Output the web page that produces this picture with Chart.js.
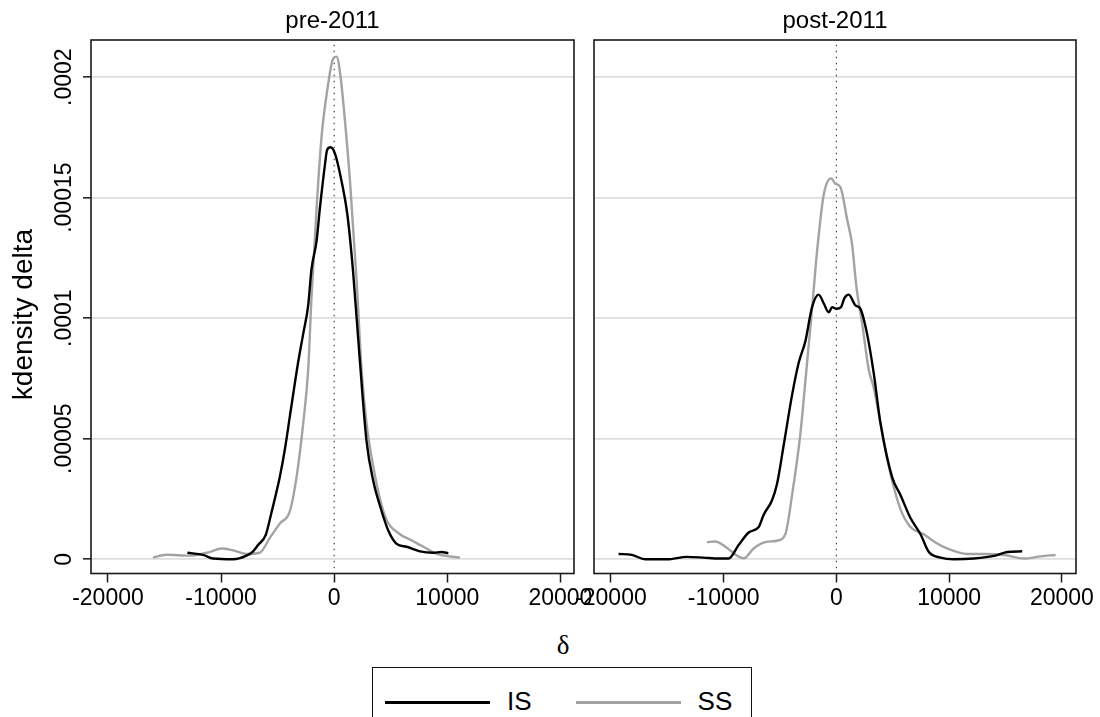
<!DOCTYPE html>
<html>
<head>
<meta charset="utf-8">
<script src="https://cdn.jsdelivr.net/npm/chart.js@4.4.1/dist/chart.umd.min.js"></script>
<style>
  body { margin: 0; width: 1100px; height: 717px; overflow: hidden; background: #fff; font-family: "Liberation Sans", Arial, sans-serif; position: relative; }
  canvas { position: absolute; top: 0; }
  #delta { position: absolute; left: 513px; width: 100px; top: 630px; text-align: center; font-family: "Liberation Serif", serif; font-size: 27px; line-height: 30px; }
  #legend { position: absolute; left: 372px; top: 667px; width: 380px; height: 70px; border: 1.5px solid #111; box-sizing: border-box; display: flex; align-items: flex-start; padding: 0 0 0 12px; }
  .item { display: flex; align-items: center; height: 70px; margin-top: -1px; }
  .swatch { width: 105px; height: 3px; margin-right: 17px; }
  .lbl { font-size: 26px; margin-right: 44px; position: relative; top: -1px; }
</style>
</head>
<body>
<canvas id="pre" width="665" height="620" style="left:0"></canvas>
<canvas id="post" width="530" height="620" style="left:570px"></canvas>
<div id="delta">δ</div>
<div id="legend"></div>
<script>
// kernel density estimates (x = delta, y in units of 1e-5)
const yUnit = 1e-5;

const preIsX = [-12980, -11590, -10710, -8940, -7760, -7170, -6730, -6050, -5550, -4810, -4370, -3920, -3190, -2740, -2300, -2010, -1560, -1270, -830, -620, -320, 60, 500, 1180, 1680, 2210, 2860, 3450, 4040, 4780, 5520, 6400, 7580, 8760, 9500, 10090];
const preIsY = [0.27, 0.18, 0.03, 0, 0.15, 0.33, 0.59, 1.01, 1.93, 3.41, 4.53, 5.93, 8.16, 9.35, 10.53, 12.02, 13.2, 14.54, 16.32, 16.99, 17.09, 16.84, 16.02, 14.24, 11.87, 8.6, 4.9, 3.26, 2.23, 1.19, 0.64, 0.52, 0.33, 0.27, 0.3, 0.25];

const preSsX = [-16020, -14840, -12770, -11000, -9970, -8940, -7760, -6580, -5690, -4810, -3920, -3330, -2740, -2300, -2010, -1560, -1120, -620, -90, 210, 560, 940, 1390, 1980, 2420, 2860, 3450, 4040, 4630, 5810, 6700, 7880, 9060, 11120];
const preSsY = [0.07, 0.19, 0.15, 0.3, 0.45, 0.37, 0.22, 0.27, 0.89, 1.48, 2.0, 3.41, 5.64, 7.86, 10.83, 14.54, 17.51, 19.44, 20.77, 20.85, 20.03, 18.25, 15.73, 11.57, 7.86, 5.64, 3.86, 2.52, 1.63, 1.04, 0.82, 0.52, 0.22, 0.07];

const postIsX = [-19320, -18140, -16950, -15030, -13250, -11780, -10440, -9560, -8670, -7780, -6890, -6450, -5710, -5270, -4670, -3930, -3340, -2750, -2160, -1570, -1120, -680, -380, 0, 410, 710, 1090, 1690, 2130, 2720, 3310, 3910, 4940, 5680, 6570, 7460, 8200, 9230, 10410, 12190, 14110, 15150, 16480];
const postIsY = [0.22, 0.18, 0, 0, 0.1, 0.07, 0.03, 0.03, 0.59, 1.11, 1.34, 1.85, 2.45, 3.12, 4.75, 6.82, 8.16, 9.05, 10.46, 10.98, 10.61, 10.24, 10.46, 10.39, 10.46, 10.83, 10.98, 10.53, 10.39, 9.35, 7.72, 5.64, 3.41, 2.67, 1.71, 1.04, 0.3, 0.07, 0, 0.03, 0.15, 0.3, 0.33];

const postSsX = [-11480, -10740, -9850, -8820, -8220, -7340, -6300, -5270, -4530, -3930, -3200, -2660, -2160, -1720, -1120, -470, -90, 360, 950, 1390, 1780, 2280, 2870, 3310, 3910, 4790, 5680, 6570, 7750, 8640, 9820, 11600, 13080, 14850, 16630, 18110, 19440];
const postSsY = [0.71, 0.74, 0.52, 0.15, 0.04, 0.45, 0.71, 0.77, 1.04, 2.67, 5.19, 7.86, 10.39, 12.76, 15.13, 15.8, 15.58, 15.43, 14.1, 13.06, 11.28, 9.79, 7.86, 7.12, 5.64, 3.56, 2.08, 1.34, 1.04, 0.74, 0.45, 0.22, 0.22, 0.18, 0.03, 0.12, 0.18];

// dotted reference line at delta = 0
const xlineX = [0, 0];
const xlineY = [-0.37, 21.37];

const seriesNames = ['IS', 'SS'];
const seriesColors = ['#000000', '#a3a3a3'];
const panelTitles = ['pre-2011', 'post-2011'];
const xTicks = [-20000, -10000, 0, 10000, 20000];
const yTicks = [0, 5, 10, 15, 20];
const yTickLabels = ['0', '.00005', '.0001', '.00015', '.0002'];

const toPoints = (xs, ys) => xs.map((x, i) => ({ x: x, y: ys[i] * yUnit }));

const family = '"Liberation Sans", Arial, sans-serif';
const font = { family, size: 23 };

const framePlugin = {
  id: 'frame',
  afterDatasetsDraw(chart) {
    const { ctx, chartArea: a } = chart;
    ctx.save();
    ctx.strokeStyle = '#1a1a1a';
    ctx.lineWidth = 1.6;
    ctx.strokeRect(a.left, a.top, a.right - a.left, a.bottom - a.top);
    ctx.restore();
  }
};

const makePanel = (id, title, series, xRange, showY, padding) => {
  const datasets = series.map((s, i) => ({
    label: seriesNames[i],
    data: toPoints(s[0], s[1]),
    borderColor: seriesColors[i],
    borderWidth: 2.4,
    pointRadius: 0,
    cubicInterpolationMode: 'monotone',
    xAxisID: 'x',
    yAxisID: 'y'
  }));
  datasets.push({
    label: 'xline',
    data: toPoints(xlineX, xlineY),
    borderColor: '#444',
    borderWidth: 1.2,
    borderDash: [1.5, 4.5],
    pointRadius: 0,
    xAxisID: 'x',
    yAxisID: 'y'
  });

  return new Chart(document.getElementById(id), {
    type: 'line',
    data: { datasets },
    plugins: [framePlugin],
    options: {
      responsive: false,
      animation: false,
      devicePixelRatio: 1,
      layout: { padding: padding, autoPadding: false },
      plugins: { legend: { display: false }, tooltip: { enabled: false } },
      scales: {
        x: {
          type: 'linear',
          position: 'bottom',
          min: xRange[0],
          max: xRange[1],
          afterBuildTicks: (s) => { s.ticks = xTicks.map(v => ({ value: v })); },
          afterFit: (s) => { s.height = 46.5; },
          border: { display: false },
          grid: { drawOnChartArea: false, drawTicks: true, tickLength: 9, tickColor: '#1a1a1a', tickWidth: 1.5 },
          ticks: { font, color: '#000', padding: 2, maxRotation: 0, autoSkip: false, callback: (v) => String(v) }
        },
        xTop: {
          type: 'linear',
          axis: 'x',
          position: 'top',
          min: xRange[0],
          max: xRange[1],
          afterFit: (s) => { s.height = 40; },
          border: { display: false },
          grid: { display: false },
          ticks: { display: false },
          title: { display: true, text: title, color: '#000', font: { family, size: 24 }, padding: { top: 7, bottom: 0 } }
        },
        y: {
          type: 'linear',
          min: -0.59 * yUnit,
          max: 21.54 * yUnit,
          afterBuildTicks: (s) => { s.ticks = yTicks.map(v => ({ value: v * yUnit })); },
          afterFit: (s) => { s.width = showY ? 91 : 0; },
          border: { display: false },
          grid: { color: '#dedede', lineWidth: 1.7, drawTicks: showY, tickLength: 8, tickColor: '#1a1a1a', tickWidth: 1.5 },
          ticks: {
            display: showY, font, color: '#000', minRotation: 90, maxRotation: 90,
            crossAlign: 'center', padding: -16.5, autoSkip: false,
            callback: (v, i) => yTickLabels[i]
          },
          // trailing spaces nudge the rotated title a little lower, as in the original
          title: { display: showY, text: 'kdensity delta  ', color: '#000', font: { family, size: 28 }, padding: { top: 7, bottom: 0 } }
        }
      }
    }
  });
};

const preChart = makePanel('pre', panelTitles[0], [[preIsX, preIsY], [preSsX, preSsY]], [-21500, 21200], true, { left: 0, right: 91, top: 0, bottom: 0 });
makePanel('post', panelTitles[1], [[postIsX, postIsY], [postSsX, postSsY]], [-21500, 21250], false, { left: 24, right: 24, top: 0, bottom: 0 });

// shared legend built from the chart's datasets
const legend = document.getElementById('legend');
preChart.data.datasets.filter(d => seriesNames.includes(d.label)).forEach(d => {
  const item = document.createElement('div');
  item.className = 'item';
  item.innerHTML = '<div class="swatch" style="background:' + d.borderColor + '"></div><span class="lbl">' + d.label + '</span>';
  legend.appendChild(item);
});
</script>
</body>
</html>
